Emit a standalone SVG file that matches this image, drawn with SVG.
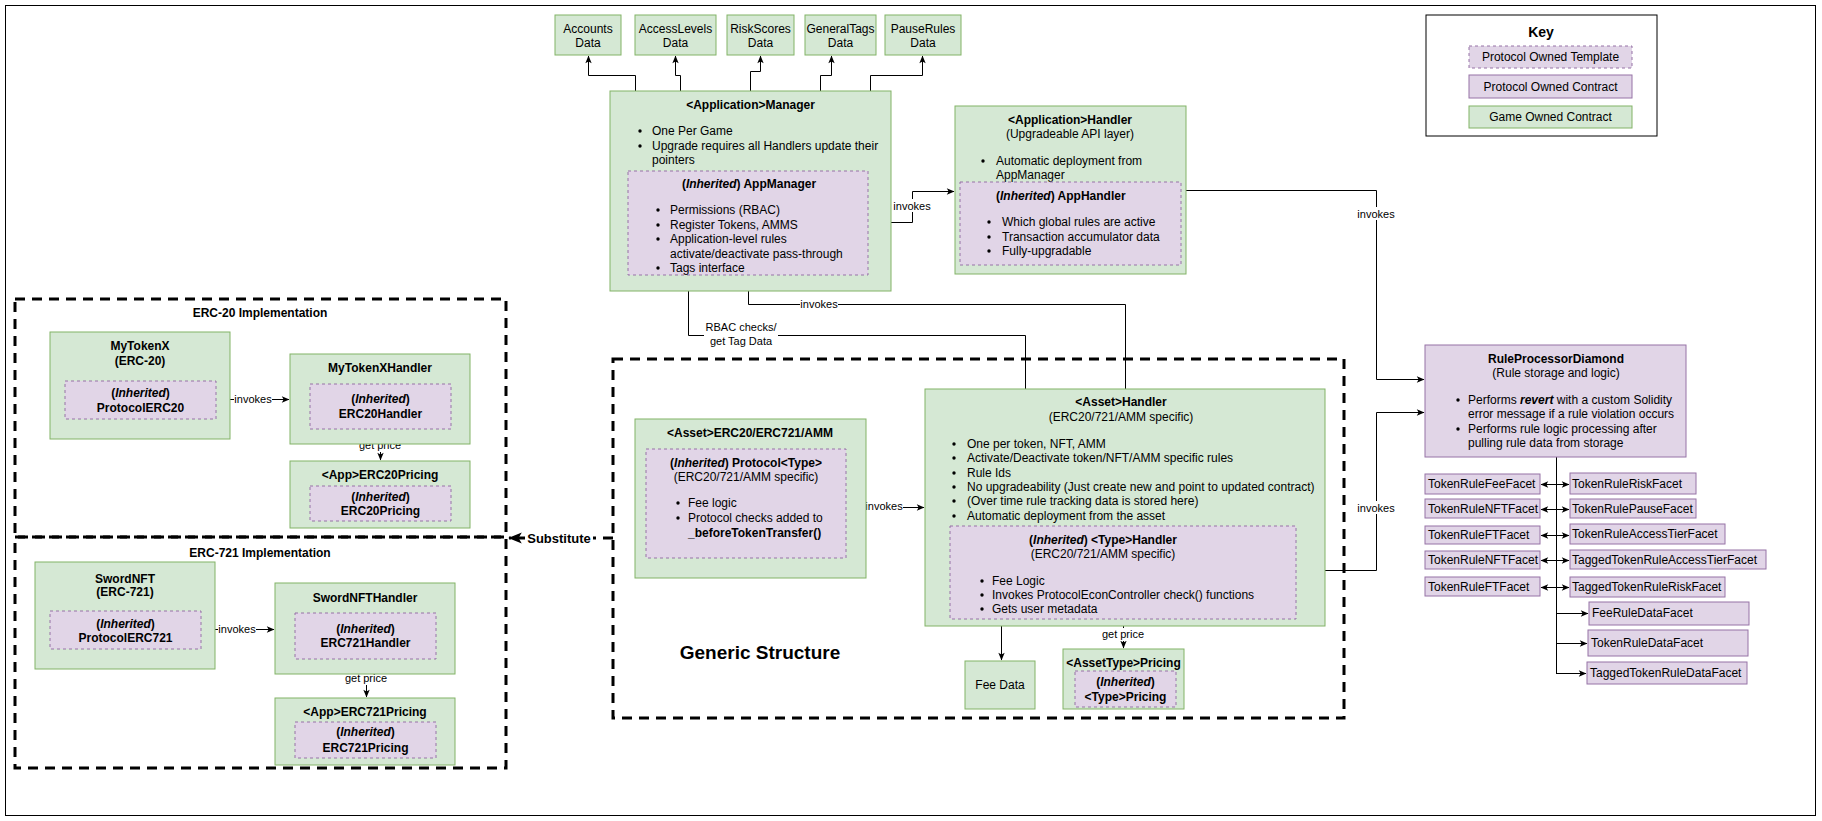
<svg xmlns="http://www.w3.org/2000/svg" width="1822" height="821" viewBox="0 0 1822 821">
<defs>
<style>
text{font-family:"Liberation Sans",Arial,Helvetica,sans-serif;font-size:12px;fill:#000}
.b{font-weight:bold}
.m{text-anchor:middle}
.i{font-style:italic}
.s11{font-size:11px}
.game{fill:#d5e8d4;stroke:#82b366;stroke-width:1}
.proto{fill:#e1d5e7;stroke:#9673a6;stroke-width:1}
.tmpl{fill:#e1d5e7;stroke:#9673a6;stroke-width:1;stroke-dasharray:3 3}
.grp{fill:none;stroke:#000;stroke-width:3;stroke-dasharray:10 7}
.edge{fill:none;stroke:#000;stroke-width:1;marker-end:url(#arr)}
.both{fill:none;stroke:#000;stroke-width:1;marker-start:url(#arr);marker-end:url(#arr)}
.bg{fill:#fff}
.dot{fill:#000}
</style>
<marker id="arr" viewBox="0 0 10 10" refX="9" refY="5" markerWidth="9" markerHeight="9" markerUnits="userSpaceOnUse" orient="auto-start-reverse">
<path d="M1,1.5 L9.5,5 L1,8.5 L3,5 z" fill="#000"/>
</marker>
<marker id="arrBig" viewBox="0 0 10 10" refX="9" refY="5" markerWidth="16" markerHeight="16" markerUnits="userSpaceOnUse" orient="auto">
<path d="M1,1.5 L9.5,5 L1,8.5 L3,5 z" fill="#000"/>
</marker>
</defs>

<!-- outer frame -->
<rect x="5.5" y="5.5" width="1810" height="810" fill="#fff" stroke="#000" stroke-width="1"/>

<!-- group frames -->
<g id="erc20-group">
<rect class="grp" x="15" y="299" width="491" height="238"/>
<text class="b m" x="260" y="317">ERC-20 Implementation</text>
</g>
<g id="erc721-group">
<rect class="grp" x="15" y="537" width="491" height="231"/>
<text class="b m" x="260" y="557">ERC-721 Implementation</text>
</g>
<g id="generic-group">
<rect class="grp" x="613" y="359" width="731" height="359"/>
<text class="b m" x="760" y="659" style="font-size:19px">Generic Structure</text>
</g>

<!-- connectors -->
<g id="connectors">
<path class="edge" d="M635.5,91 V75.5 H588.5 V56"/>
<path class="edge" d="M680.5,91 V75.5 H675.5 V56"/>
<path class="edge" d="M750.5,91 V71.5 H760.5 V56"/>
<path class="edge" d="M820.5,91 V75.5 H831.5 V56"/>
<path class="edge" d="M870.5,91 V75.5 H922.5 V56"/>

<path class="edge" d="M868,222.5 H912.5 V191.5 H954"/>
<rect class="bg" x="893" y="199" width="38" height="13"/>
<text class="s11 m" x="912" y="210">invokes</text>

<path class="edge" d="M1181,190.5 H1376.5 V379.5 H1424"/>
<rect class="bg" x="1357" y="207" width="38" height="13"/>
<text class="s11 m" x="1376" y="218">invokes</text>

<path class="edge" d="M1296,570.5 H1376.5 V412.5 H1424"/>
<rect class="bg" x="1357" y="501" width="38" height="13"/>
<text class="s11 m" x="1376" y="512">invokes</text>

<path class="edge" d="M1025.5,389 V335.5 H688.5 V276"/>
<rect class="bg" x="704" y="323" width="74" height="28"/>
<text class="s11 m" x="741" y="331">RBAC checks/</text>
<text class="s11 m" x="741" y="345">get Tag Data</text>

<path class="edge" d="M1125.5,389 V304.5 H748.5 V276"/>
<rect class="bg" x="800" y="298" width="38" height="12"/>
<text class="s11 m" x="819" y="308">invokes</text>

<path class="edge" d="M846,507.5 H924"/>
<rect class="bg" x="866" y="500" width="37" height="12"/>
<text class="s11 m" x="884" y="510">invokes</text>

<path class="edge" d="M1001.5,619 V660"/>
<path class="edge" d="M1123.5,619 V648"/>
<rect class="bg" x="1101" y="628" width="44" height="13"/>
<text class="s11 m" x="1123" y="638">get price</text>

<path class="edge" d="M216,399.5 H289"/>
<rect class="bg" x="234" y="393" width="38" height="12"/>
<text class="s11 m" x="253" y="403">invokes</text>
<path class="edge" d="M380.5,429 V460"/>
<rect class="bg" x="358" y="439" width="44" height="13"/>
<text class="s11 m" x="380" y="449">get price</text>

<path class="edge" d="M201,629.5 H274"/>
<rect class="bg" x="218" y="623" width="38" height="12"/>
<text class="s11 m" x="237" y="633">invokes</text>
<path class="edge" d="M366.5,659 V697"/>
<rect class="bg" x="344" y="672" width="44" height="13"/>
<text class="s11 m" x="366" y="682">get price</text>

<path d="M613,538 H509" fill="none" stroke="#000" stroke-width="3" stroke-dasharray="10 7" marker-end="url(#arrBig)"/>
<rect class="bg" x="525" y="530" width="68" height="16"/>
<text class="b m" x="559" y="543" style="font-size:13px">Substitute</text>

<path d="M1556.5,457 V673.5" fill="none" stroke="#000" stroke-width="1"/>
<path class="both" d="M1541,484.5 H1569"/>
<path class="both" d="M1541,509.5 H1569"/>
<path class="both" d="M1541,535.5 H1569"/>
<path class="both" d="M1541,560.5 H1569"/>
<path class="both" d="M1541,587.5 H1569"/>
<path class="edge" d="M1556,613.5 H1588"/>
<path class="edge" d="M1556,643.5 H1587"/>
<path class="edge" d="M1556,673.5 H1586"/>
</g>

<!-- data stores -->
<g id="accounts-data">
<rect class="game" x="555" y="15" width="66" height="40"/>
<text class="m" x="588" y="33">Accounts</text>
<text class="m" x="588" y="47">Data</text>
</g>
<g id="accesslevels-data">
<rect class="game" x="635" y="15" width="81" height="40"/>
<text class="m" x="675.5" y="33">AccessLevels</text>
<text class="m" x="675.5" y="47">Data</text>
</g>
<g id="riskscores-data">
<rect class="game" x="727" y="15" width="67" height="40"/>
<text class="m" x="760.5" y="33">RiskScores</text>
<text class="m" x="760.5" y="47">Data</text>
</g>
<g id="generaltags-data">
<rect class="game" x="805" y="15" width="71" height="40"/>
<text class="m" x="840.5" y="33">GeneralTags</text>
<text class="m" x="840.5" y="47">Data</text>
</g>
<g id="pauserules-data">
<rect class="game" x="885" y="15" width="76" height="40"/>
<text class="m" x="923" y="33">PauseRules</text>
<text class="m" x="923" y="47">Data</text>
</g>

<!-- application manager -->
<g id="app-manager">
<rect class="game" x="610" y="91" width="281" height="200"/>
<text class="b m" x="750.5" y="109">&lt;Application&gt;Manager</text>
<circle class="dot" cx="640" cy="131" r="1.7"/>
<text x="652" y="135">One Per Game</text>
<circle class="dot" cx="640" cy="146" r="1.7"/>
<text x="652" y="150">Upgrade requires all Handlers update their</text>
<text x="652" y="164">pointers</text>
<rect class="tmpl" x="628" y="171" width="240" height="104"/>
<text class="b m" x="749" y="188">(<tspan class="i">Inherited</tspan>) AppManager</text>
<circle class="dot" cx="658" cy="210" r="1.7"/>
<text x="670" y="214">Permissions (RBAC)</text>
<circle class="dot" cx="658" cy="225" r="1.7"/>
<text x="670" y="229">Register Tokens, AMMS</text>
<circle class="dot" cx="658" cy="239" r="1.7"/>
<text x="670" y="243">Application-level rules</text>
<text x="670" y="258">activate/deactivate pass-through</text>
<circle class="dot" cx="658" cy="268" r="1.7"/>
<text x="670" y="272">Tags interface</text>
</g>

<!-- application handler -->
<g id="app-handler">
<rect class="game" x="955" y="106" width="231" height="168"/>
<text class="b m" x="1070" y="124">&lt;Application&gt;Handler</text>
<text class="m" x="1070" y="138">(Upgradeable API layer)</text>
<circle class="dot" cx="983" cy="161" r="1.7"/>
<text x="996" y="165">Automatic deployment from</text>
<text x="996" y="179">AppManager</text>
<rect class="tmpl" x="960" y="182" width="221" height="83"/>
<text class="b" x="996" y="200">(<tspan class="i">Inherited</tspan>) AppHandler</text>
<circle class="dot" cx="989" cy="222" r="1.7"/>
<text x="1002" y="226">Which global rules are active</text>
<circle class="dot" cx="989" cy="237" r="1.7"/>
<text x="1002" y="241">Transaction accumulator data</text>
<circle class="dot" cx="989" cy="251" r="1.7"/>
<text x="1002" y="255">Fully-upgradable</text>
</g>

<!-- key -->
<g id="key">
<rect x="1426" y="15" width="231" height="121" fill="#fff" stroke="#000" stroke-width="1"/>
<text class="b m" x="1541" y="37" style="font-size:14px">Key</text>
<rect class="tmpl" x="1469" y="46" width="163" height="22"/>
<text class="m" x="1550.5" y="61">Protocol Owned Template</text>
<rect class="proto" x="1469" y="75" width="163" height="23"/>
<text class="m" x="1550.5" y="91">Protocol Owned Contract</text>
<rect class="game" x="1469" y="106" width="163" height="22"/>
<text class="m" x="1550.5" y="121">Game Owned Contract</text>
</g>

<!-- rule processor -->
<g id="rule-processor">
<rect class="proto" x="1425" y="345" width="261" height="112"/>
<text class="b m" x="1556" y="363">RuleProcessorDiamond</text>
<text class="m" x="1556" y="377">(Rule storage and logic)</text>
<circle class="dot" cx="1458" cy="400" r="1.7"/>
<text x="1468" y="404">Performs <tspan class="b i">revert</tspan> with a custom Solidity</text>
<text x="1468" y="418">error message if a rule violation occurs</text>
<circle class="dot" cx="1458" cy="429" r="1.7"/>
<text x="1468" y="433">Performs rule logic processing after</text>
<text x="1468" y="447">pulling rule data from storage</text>
</g>

<!-- facets -->
<g id="facet-token-fee"><rect class="proto" x="1425" y="474" width="115" height="20"/><text x="1428" y="488">TokenRuleFeeFacet</text></g>
<g id="facet-token-nft-1"><rect class="proto" x="1425" y="499" width="115" height="19"/><text x="1428" y="513">TokenRuleNFTFacet</text></g>
<g id="facet-token-ft-1"><rect class="proto" x="1425" y="526" width="115" height="18"/><text x="1428" y="539">TokenRuleFTFacet</text></g>
<g id="facet-token-nft-2"><rect class="proto" x="1425" y="551" width="115" height="18"/><text x="1428" y="564">TokenRuleNFTFacet</text></g>
<g id="facet-token-ft-2"><rect class="proto" x="1425" y="577" width="115" height="19"/><text x="1428" y="591">TokenRuleFTFacet</text></g>
<g id="facet-token-risk"><rect class="proto" x="1570" y="473" width="126" height="21"/><text x="1572" y="488">TokenRuleRiskFacet</text></g>
<g id="facet-token-pause"><rect class="proto" x="1570" y="499" width="126" height="19"/><text x="1572" y="513">TokenRulePauseFacet</text></g>
<g id="facet-token-accesstier"><rect class="proto" x="1570" y="524" width="155" height="20"/><text x="1572" y="538">TokenRuleAccessTierFacet</text></g>
<g id="facet-tagged-accesstier"><rect class="proto" x="1570" y="550" width="196" height="19"/><text x="1572" y="564">TaggedTokenRuleAccessTierFacet</text></g>
<g id="facet-tagged-risk"><rect class="proto" x="1570" y="577" width="155" height="20"/><text x="1572" y="591">TaggedTokenRuleRiskFacet</text></g>
<g id="facet-fee-data"><rect class="proto" x="1589" y="602" width="160" height="23"/><text x="1592" y="617">FeeRuleDataFacet</text></g>
<g id="facet-token-data"><rect class="proto" x="1588" y="630" width="160" height="26"/><text x="1591" y="647">TokenRuleDataFacet</text></g>
<g id="facet-tagged-data"><rect class="proto" x="1587" y="662" width="160" height="22"/><text x="1590" y="677">TaggedTokenRuleDataFacet</text></g>

<!-- ERC-20 implementation -->
<g id="mytokenx">
<rect class="game" x="50" y="332" width="180" height="107"/>
<text class="b m" x="140" y="350">MyTokenX</text>
<text class="b m" x="140" y="365">(ERC-20)</text>
<rect class="tmpl" x="65" y="381" width="151" height="38"/>
<text class="b m" x="140.5" y="397">(<tspan class="i">Inherited</tspan>)</text>
<text class="b m" x="140.5" y="412">ProtocolERC20</text>
</g>
<g id="mytokenx-handler">
<rect class="game" x="290" y="354" width="180" height="90"/>
<text class="b m" x="380" y="372">MyTokenXHandler</text>
<rect class="tmpl" x="310" y="384" width="141" height="45"/>
<text class="b m" x="380.5" y="403">(<tspan class="i">Inherited</tspan>)</text>
<text class="b m" x="380.5" y="418">ERC20Handler</text>
</g>
<g id="erc20-pricing">
<rect class="game" x="290" y="461" width="180" height="67"/>
<text class="b m" x="380" y="479">&lt;App&gt;ERC20Pricing</text>
<rect class="tmpl" x="310" y="486" width="141" height="35"/>
<text class="b m" x="380.5" y="501">(<tspan class="i">Inherited</tspan>)</text>
<text class="b m" x="380.5" y="515">ERC20Pricing</text>
</g>

<!-- ERC-721 implementation -->
<g id="swordnft">
<rect class="game" x="35" y="562" width="180" height="107"/>
<text class="b m" x="125" y="583">SwordNFT</text>
<text class="b m" x="125" y="596">(ERC-721)</text>
<rect class="tmpl" x="50" y="611" width="151" height="38"/>
<text class="b m" x="125.5" y="628">(<tspan class="i">Inherited</tspan>)</text>
<text class="b m" x="125.5" y="642">ProtocolERC721</text>
</g>
<g id="swordnft-handler">
<rect class="game" x="275" y="583" width="180" height="91"/>
<text class="b m" x="365" y="602">SwordNFTHandler</text>
<rect class="tmpl" x="295" y="613" width="141" height="46"/>
<text class="b m" x="365.5" y="633">(<tspan class="i">Inherited</tspan>)</text>
<text class="b m" x="365.5" y="647">ERC721Handler</text>
</g>
<g id="erc721-pricing">
<rect class="game" x="275" y="698" width="180" height="67"/>
<text class="b m" x="365" y="716">&lt;App&gt;ERC721Pricing</text>
<rect class="tmpl" x="295" y="722" width="141" height="36"/>
<text class="b m" x="365.5" y="736">(<tspan class="i">Inherited</tspan>)</text>
<text class="b m" x="365.5" y="752">ERC721Pricing</text>
</g>

<!-- generic structure -->
<g id="asset-token">
<rect class="game" x="635" y="419" width="231" height="159"/>
<text class="b m" x="750" y="437">&lt;Asset&gt;ERC20/ERC721/AMM</text>
<rect class="tmpl" x="646" y="449" width="200" height="109"/>
<text class="b m" x="746" y="467">(<tspan class="i">Inherited</tspan>) Protocol&lt;Type&gt;</text>
<text class="m" x="746" y="481">(ERC20/721/AMM specific)</text>
<circle class="dot" cx="678" cy="503" r="1.7"/>
<text x="688" y="507">Fee logic</text>
<circle class="dot" cx="678" cy="518" r="1.7"/>
<text x="688" y="522">Protocol checks added to</text>
<text class="b" x="688" y="537">_beforeTokenTransfer()</text>
</g>
<g id="asset-handler">
<rect class="game" x="925" y="389" width="400" height="237"/>
<text class="b m" x="1121" y="406">&lt;Asset&gt;Handler</text>
<text class="m" x="1121" y="421">(ERC20/721/AMM specific)</text>
<circle class="dot" cx="954" cy="444" r="1.7"/>
<text x="967" y="448">One per token, NFT, AMM</text>
<circle class="dot" cx="954" cy="458" r="1.7"/>
<text x="967" y="462">Activate/Deactivate token/NFT/AMM specific rules</text>
<circle class="dot" cx="954" cy="473" r="1.7"/>
<text x="967" y="477">Rule Ids</text>
<circle class="dot" cx="954" cy="487" r="1.7"/>
<text x="967" y="491">No upgradeability (Just create new and point to updated contract)</text>
<circle class="dot" cx="954" cy="501" r="1.7"/>
<text x="967" y="505">(Over time rule tracking data is stored here)</text>
<circle class="dot" cx="954" cy="516" r="1.7"/>
<text x="967" y="520">Automatic deployment from the asset</text>
<rect class="tmpl" x="950" y="526" width="346" height="93"/>
<text class="b m" x="1103" y="544">(<tspan class="i">Inherited</tspan>) &lt;Type&gt;Handler</text>
<text class="m" x="1103" y="558">(ERC20/721/AMM specific)</text>
<circle class="dot" cx="982" cy="581" r="1.7"/>
<text x="992" y="585">Fee Logic</text>
<circle class="dot" cx="982" cy="595" r="1.7"/>
<text x="992" y="599">Invokes ProtocolEconController check() functions</text>
<circle class="dot" cx="982" cy="609" r="1.7"/>
<text x="992" y="613">Gets user metadata</text>
</g>
<g id="fee-data">
<rect class="game" x="965" y="661" width="70" height="48"/>
<text class="m" x="1000" y="689">Fee Data</text>
</g>
<g id="asset-pricing">
<rect class="game" x="1063" y="649" width="121" height="60"/>
<text class="b m" x="1123.5" y="667">&lt;AssetType&gt;Pricing</text>
<rect class="tmpl" x="1075" y="671" width="101" height="36"/>
<text class="b m" x="1125.5" y="686">(<tspan class="i">Inherited</tspan>)</text>
<text class="b m" x="1125.5" y="701">&lt;Type&gt;Pricing</text>
</g>
</svg>
